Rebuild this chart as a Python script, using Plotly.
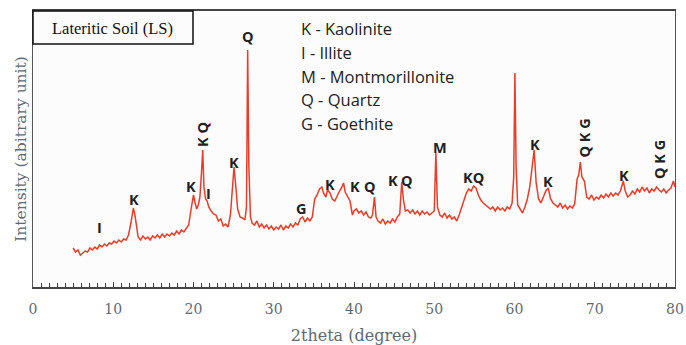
import plotly.graph_objects as go

# 2theta (degree) and intensity (arbitrary unit)
two_theta = [
    5.0, 5.3, 5.6, 5.9, 6.2, 6.5, 6.8, 7.1, 7.4, 7.7, 8.0, 8.3, 8.6, 8.9, 9.2, 9.5, 9.8,
    10.1, 10.4, 10.7, 11.0, 11.3, 11.6, 11.9, 12.2, 12.5, 12.7, 12.9, 13.1, 13.4, 13.7,
    14.0, 14.3, 14.6, 14.9, 15.2, 15.5, 15.8, 16.1, 16.4, 16.7, 17.0, 17.3, 17.6, 17.9,
    18.2, 18.5, 18.8, 19.1, 19.4, 19.7, 20.0, 20.2, 20.4, 20.6, 20.8, 21.0, 21.15, 21.3,
    21.5, 21.7, 21.9, 22.2, 22.5, 22.8, 23.1, 23.4, 23.7, 24.0, 24.3, 24.6, 24.85, 25.05,
    25.3, 25.5, 25.8, 26.1, 26.4, 26.6, 26.75, 26.9, 27.1, 27.3, 27.6, 27.9, 28.2, 28.5,
    28.8, 29.1, 29.4, 29.7, 30.0, 30.3, 30.6, 30.9, 31.2, 31.5, 31.8, 32.1, 32.4, 32.7,
    33.0, 33.3, 33.6, 33.9, 34.2, 34.5, 34.8, 35.1, 35.4, 35.7, 36.0, 36.2, 36.5, 36.7,
    37.0, 37.3, 37.6, 37.9, 38.2, 38.5, 38.7, 38.9, 39.2, 39.5, 39.8, 40.0, 40.3, 40.6,
    40.9, 41.2, 41.5, 41.8, 42.1, 42.3, 42.55, 42.75, 43.0, 43.3, 43.6, 43.9, 44.2, 44.5,
    44.8, 45.1, 45.4, 45.7, 45.95, 46.15, 46.4, 46.7, 47.0, 47.3, 47.6, 47.9, 48.2, 48.5,
    48.8, 49.1, 49.4, 49.7, 50.0, 50.2, 50.4, 50.7, 51.0, 51.3, 51.6, 51.9, 52.2, 52.5,
    52.8, 53.1, 53.4, 53.7, 54.0, 54.3, 54.6, 54.9, 55.2, 55.5, 55.8, 56.1, 56.4, 56.7,
    57.0, 57.3, 57.6, 57.9, 58.2, 58.5, 58.8, 59.1, 59.4, 59.7, 59.9, 60.05, 60.2, 60.4,
    60.7, 61.0, 61.3, 61.6, 61.9, 62.2, 62.45, 62.7, 63.0, 63.3, 63.6, 63.9, 64.2, 64.5,
    64.8, 65.1, 65.4, 65.7, 66.0, 66.3, 66.6, 66.9, 67.2, 67.5, 67.8, 68.0, 68.2, 68.4,
    68.7, 69.0, 69.3, 69.6, 69.9, 70.2, 70.5, 70.8, 71.1, 71.4, 71.7, 72.0, 72.3, 72.6,
    72.9, 73.2, 73.55, 73.8, 74.1, 74.4, 74.7, 75.0, 75.3, 75.6, 75.9, 76.2, 76.5, 76.8,
    77.1, 77.4, 77.7, 78.0, 78.3, 78.6, 78.9, 79.2, 79.5, 79.8, 80.0,
]
intensity = [
    39, 35, 37, 32, 34, 36, 35, 39, 37, 40, 38, 42, 40, 43, 41, 44, 43,
    46, 44, 47, 45, 48, 47, 52, 64, 79, 72, 58, 50, 47, 51,
    48, 50, 47, 51, 49, 52, 49, 53, 50, 53, 51, 54, 52, 56,
    53, 57, 55, 58, 62, 78, 92, 84, 78, 82, 90, 115, 137, 100,
    88, 86, 80, 76, 73, 72, 66, 68, 61, 63, 60, 72, 100, 120,
    98, 78, 70, 69, 67, 80, 237, 120, 70, 64, 62, 66, 60, 63,
    59, 62, 58, 61, 57, 60, 58, 62, 57, 61, 59, 63, 60, 64,
    62, 68, 70, 65, 69, 66, 70, 88, 92, 98, 100, 94, 90, 97,
    94, 88, 86, 92, 96, 100, 104, 95, 90, 86, 72, 76, 78, 74,
    76, 72, 75, 70, 69, 72, 90, 70, 66, 64, 68, 63, 66, 64,
    68, 65, 70, 73, 105, 88, 76, 77, 74, 77, 73, 76, 72, 76,
    73, 75, 72, 74, 76, 134, 80, 72, 70, 74, 69, 72, 68, 70,
    66, 72, 80, 86, 94, 98, 96, 101, 99, 92, 87, 84, 82, 80,
    78, 80, 76, 80, 77, 79, 76, 80, 78, 84, 110, 214, 120, 82,
    78, 74, 80, 88, 100, 118, 137, 104, 88, 84, 90, 96, 99, 88,
    84, 82, 80, 84, 79, 82, 78, 81, 79, 83, 108, 112, 125, 110,
    106, 90, 88, 92, 87, 90, 88, 92, 89, 93, 90, 94, 91, 94,
    92, 96, 106, 96, 90, 92, 96, 93, 98, 95, 100, 96, 99, 94,
    98, 96, 100, 97, 95, 98, 94, 97, 99, 106, 100,
]

# Peak labels: text, 2theta, intensity, rotated
peak_labels = ["I", "K", "K", "K Q", "I", "K", "Q", "G", "K", "K", "Q", "K", "Q",
               "M", "KQ", "K", "K", "Q K G", "K", "Q K G"]
peak_x = [8.3, 12.6, 19.7, 21.05, 21.9, 25.0, 26.8, 33.5, 37.0, 40.1, 42.0, 44.8, 46.6,
          50.7, 54.9, 62.5, 64.2, 68.6, 73.6, 78.0]
peak_y = [60, 88, 101, 153, 94, 125, 251, 79, 103, 101, 101, 107, 107,
          140, 110, 143, 106, 149, 112, 128]
peak_rot = [0, 0, 0, 1, 0, 0, 0, 0, 0, 0, 0, 0, 0, 0, 0, 0, 0, 1, 0, 1]

legend_lines = ["K - Kaolinite", "I - Illite", "M - Montmorillonite", "Q - Quartz", "G - Goethite"]

x_ticks = [0, 10, 20, 30, 40, 50, 60, 70, 80]

RED = "#ec3b26"
GREY_TXT = "#5d6a72"

fig = go.Figure()
fig.add_trace(go.Scatter(x=two_theta, y=intensity, mode="lines",
                         line=dict(color=RED, width=1.5), showlegend=False,
                         hoverinfo="skip"))

anns = []
for t, xv, yv, r in zip(peak_labels, peak_x, peak_y, peak_rot):
    anns.append(dict(x=xv, y=yv, xref="x", yref="y", text="<b>%s</b>" % t,
                     showarrow=False, textangle=-90 if r else 0,
                     font=dict(family="Open Sans", size=14.5, color="#222222"),
                     xanchor="center", yanchor="middle"))

for i, t in enumerate(legend_lines):
    anns.append(dict(x=(299 - 33) / 642, y=(287 - 29 - 23.5 * i) / 276,
                     xref="paper", yref="paper", text=t, showarrow=False,
                     xanchor="left", yanchor="middle",
                     font=dict(family="Open Sans", size=16.5, color="#222222")))

anns.append(dict(x=0.1246, y=(287 - 28) / 276, xref="paper", yref="paper",
                 text="Lateritic Soil (LS)", showarrow=False,
                 xanchor="center", yanchor="middle",
                 font=dict(family="Liberation Serif", size=16.5, color="#111111")))

fig.update_layout(
    width=686, height=345,
    margin=dict(l=33, r=11, t=11, b=58),
    paper_bgcolor="white", plot_bgcolor="#fcfcfd",
    annotations=anns,
    shapes=[dict(type="rect", xref="paper", yref="paper", x0=0, x1=(193 - 33) / 642,
                 y0=(287 - 44) / 276, y1=1, line=dict(color="#111111", width=1.5))],
    xaxis=dict(range=[0, 80], tickvals=x_ticks, ticks="inside", ticklen=5,
               tickcolor="#444", showgrid=False, zeroline=False, automargin=False,
               showline=True, linecolor="#444", linewidth=1.5, mirror=True,
               ticklabelstandoff=8,
               minor=dict(dtick=1, ticks="inside", ticklen=4, tickcolor="#444"),
               tickfont=dict(family="DejaVu Serif", size=14, color=GREY_TXT),
               title=dict(text="2theta (degree)", standoff=16,
                          font=dict(family="DejaVu Serif", size=16, color=GREY_TXT))),
    yaxis=dict(range=[0, 276], showticklabels=False, ticks="", showgrid=False,
               zeroline=False, showline=True, linecolor="#555", linewidth=1.2,
               mirror=True, automargin=False,
               title=dict(text="Intensity (abitrary unit)", standoff=1,
                          font=dict(family="DejaVu Serif", size=15.5, color=GREY_TXT))),
)

fig.write_html("out.html")
